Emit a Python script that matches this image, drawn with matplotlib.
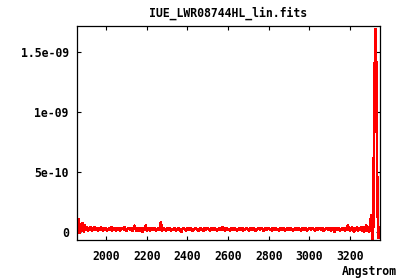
import numpy as np
import matplotlib
matplotlib.use('Agg')
import matplotlib.pyplot as plt

# spectrum: wavelength grid (Angstrom) and flux in units of 1e-11
wave_start = 1860
wave_step = 5
flux_e11 = [
    4, 10, -1, 6, 1, 7, 0, 5, 2, 4, 1, 3, 2, 4, 1, 3, 2, 4, 2, 3,
    1, 3, 2, 4, 2, 1, 3, 2, 3, 1, 2, 3, 2, 4, 1, 2, 3, 2, 1, 3,
    2, 3, 1, 2, 3, 2, 4, 2, 1, 2, 3, 2, 2, 3, 1, 2, 5, 2, 1, 3,
    2, 1, 3, 2, 0, 3, 2, 5, 1, 2, 3, 1, 2, 3, 2, 2, 3, 1, 2, 2,
    3, 2, 8, 1, 2, 3, 2, 1, 3, 2, 2, 3, 1, 2, 2, 3, 2, 1, 2, 3,
    2, 1, 0, 2, 3, 2, 2, 1, 3, 2, 2, 3, 2, 1, 2, 2, 3, 2, 2, 1,
    2, 3, 2, 2, 1, 3, 2, 2, 3, 2, 1, 2, 3, 2, 2, 3, 2, 1, 2, 2,
    3, 2, 2, 4, 2, 1, 2, 3, 2, 2, 1, 3, 2, 2, 3, 2, 2, 1, 2, 3,
    2, 2, 3, 1, 2, 2, 3, 2, 2, 1, 3, 2, 2, 3, 2, 1, 2, 2, 3, 2,
    2, 3, 2, 1, 2, 3, 2, 2, 3, 2, 2, 1, 3, 2, 2, 3, 2, 2, 1, 2,
    3, 2, 2, 3, 1, 2, 2, 3, 2, 2, 3, 2, 1, 2, 3, 2, 2, 3, 2, 2,
    1, 3, 2, 2, 3, 2, 1, 2, 3, 2, 2, 3, 2, 2, 1, 3, 2, 2, 3, 2,
    2, 3, 1, 2, 2, 3, 2, 2, 3, 1, 2, 3, 2, 0, 3, 2, 2, 3, 1, 2,
    2, 3, 2, 1, 3, 2, 5, 3, 1, 2, 4, 2, 0, 3, 2, 4, 1, 3, 2, 4,
    1, 4, 0, 3, 5, 1, 4, 0, 6, 14, -6, 5, 112, 169, 136, 26, -5, 4,
]
yticks = [0, 5e-10, 1e-09, 1.5e-09]
ytick_labels = ['0', '5e-10', '1e-09', '1.5e-09']
xticks = [2000, 2200, 2400, 2600, 2800, 3000, 3200]

flux = np.array(flux_e11) * 1e-11
wave = wave_start + wave_step * np.arange(len(flux))

font = {'family': 'DejaVu Sans Mono', 'weight': 'bold', 'size': 8.3}

fig = plt.figure(figsize=(4, 2.8), dpi=100)
ax = fig.add_axes([0.1925, 0.1429, 0.7575, 0.7643])

# gnuplot-like jagged line
ax.plot(wave, flux, color='red', linewidth=1.2, antialiased=False)

ax.set_xlim(1857, 3348)
ax.set_ylim(-6.9e-11, 1.714e-09)
ax.set_xticks(xticks)
ax.set_xticklabels([str(t) for t in xticks], fontdict=font)
ax.set_yticks(yticks)
ax.set_yticklabels(ytick_labels, fontdict=font)
ax.tick_params(direction='in', length=3, width=0.8, top=True, right=True, pad=6)
ax.tick_params(axis='x', pad=7)
for s in ax.spines.values():
    s.set_linewidth(0.9)

ax.set_title('IUE_LWR08744HL_lin.fits', fontdict=font, pad=6.5)
fig.text(0.993, 1 - 271 / 280., 'Angstrom', ha='right', va='center', **font)

fig.savefig('out.png', dpi=100)
